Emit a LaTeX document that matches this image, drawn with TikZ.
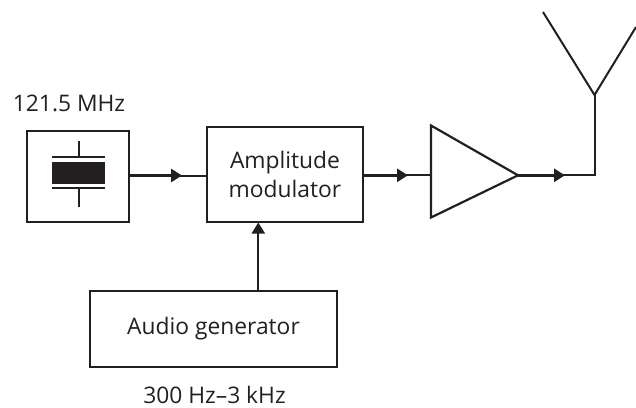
\documentclass[tikz,border=0pt]{standalone}
\usepackage{fontspec}
\setmainfont{Open Sans}
\usetikzlibrary{arrows.meta}
\definecolor{ink}{HTML}{231F20}
\tikzset{
  x=1pt,y=-1pt,
  every node/.style={text=ink,font=\fontsize{22.8}{29}\selectfont},
  block/.style={draw=ink,line width=2.2pt,inner sep=0pt,align=center},
  wire/.style={draw=ink,line width=2pt},
  feed/.style={draw=ink,line width=3pt,-{Triangle[length=11pt,width=13pt,fill=ink]}},
  plate/.style={draw=ink,line width=2pt},
  lab/.style={inner sep=0pt,anchor=base},
}
\begin{document}
\begin{tikzpicture}
\useasboundingbox (0,0) rectangle (636,407);
% blocks
\node[block,minimum width=102pt,minimum height=91pt] (xtal) at (78,176.5) {};
\node[block,minimum width=155.5pt,minimum height=95pt] (mod) at (285,174.5) {Amplitude\\modulator};
\node[block,minimum width=247pt,minimum height=76pt] (gen) at (213.5,329) {Audio generator};
% amplifier outline
\coordinate (ampt) at (431,125.5);
\coordinate (ampb) at (431,217.5);
\coordinate (ampa) at (518,175.3);
\coordinate (ampi) at (431,175.3);
\draw[draw=ink,line width=2.2pt,line join=miter] (ampt) -- (ampa) -- (ampb) -- cycle;
% labels
\node[lab] (flab) at (69,111.7) {121.5 MHz};
\node[lab] (alab) at (214.5,403.5) {300 Hz–3 kHz};
% crystal symbol
\node[fill=ink,minimum width=53pt,minimum height=22.6pt,inner sep=0pt] (xbody) at (78.8,173) {};
\coordinate (ptl) at (52.3,156.7); \coordinate (ptr) at (105.3,156.7);
\coordinate (pbl) at (52.3,188); \coordinate (pbr) at (105.3,188);
\coordinate (ltop) at (79,141); \coordinate (lmid) at (79,156.7);
\coordinate (lmidb) at (79,188); \coordinate (lbot) at (79,206.7);
\draw[plate] (ptl) -- (ptr);
\draw[plate] (pbl) -- (pbr);
\draw[plate] (ltop) -- (lmid);
\draw[plate] (lmidb) -- (lbot);
% connectors
\coordinate (t1) at (182,175.5);
\coordinate (t2) at (408,175.3);
\coordinate (t3) at (565,175.3);
\coordinate (corner) at (594.5,175.3);
\coordinate (ant) at (594.5,95);
\coordinate (antl) at (543,12);
\coordinate (antr) at (636,27);
\coordinate (g1) at (258.3,291);
\coordinate (g2) at (258.3,222.5);
\path (xtal.east |- t1) coordinate (x1);
\path (mod.west |- t1) coordinate (x2);
\path (mod.east |- t2) coordinate (x3);
\draw[wire] (x1) -- (x2);
\draw[feed] (x1) -- (t1);
\draw[wire] (x3) -- (ampi);
\draw[feed] (x3) -- (t2);
\draw[wire,line join=miter] (ampa) -- (corner) -- (ant);
\draw[feed] (ampa) -- (t3);
\draw[wire] (antl) -- (ant) -- (antr);
\draw[feed,line width=2.2pt] (g1) -- (g2);
\end{tikzpicture}
\end{document}
